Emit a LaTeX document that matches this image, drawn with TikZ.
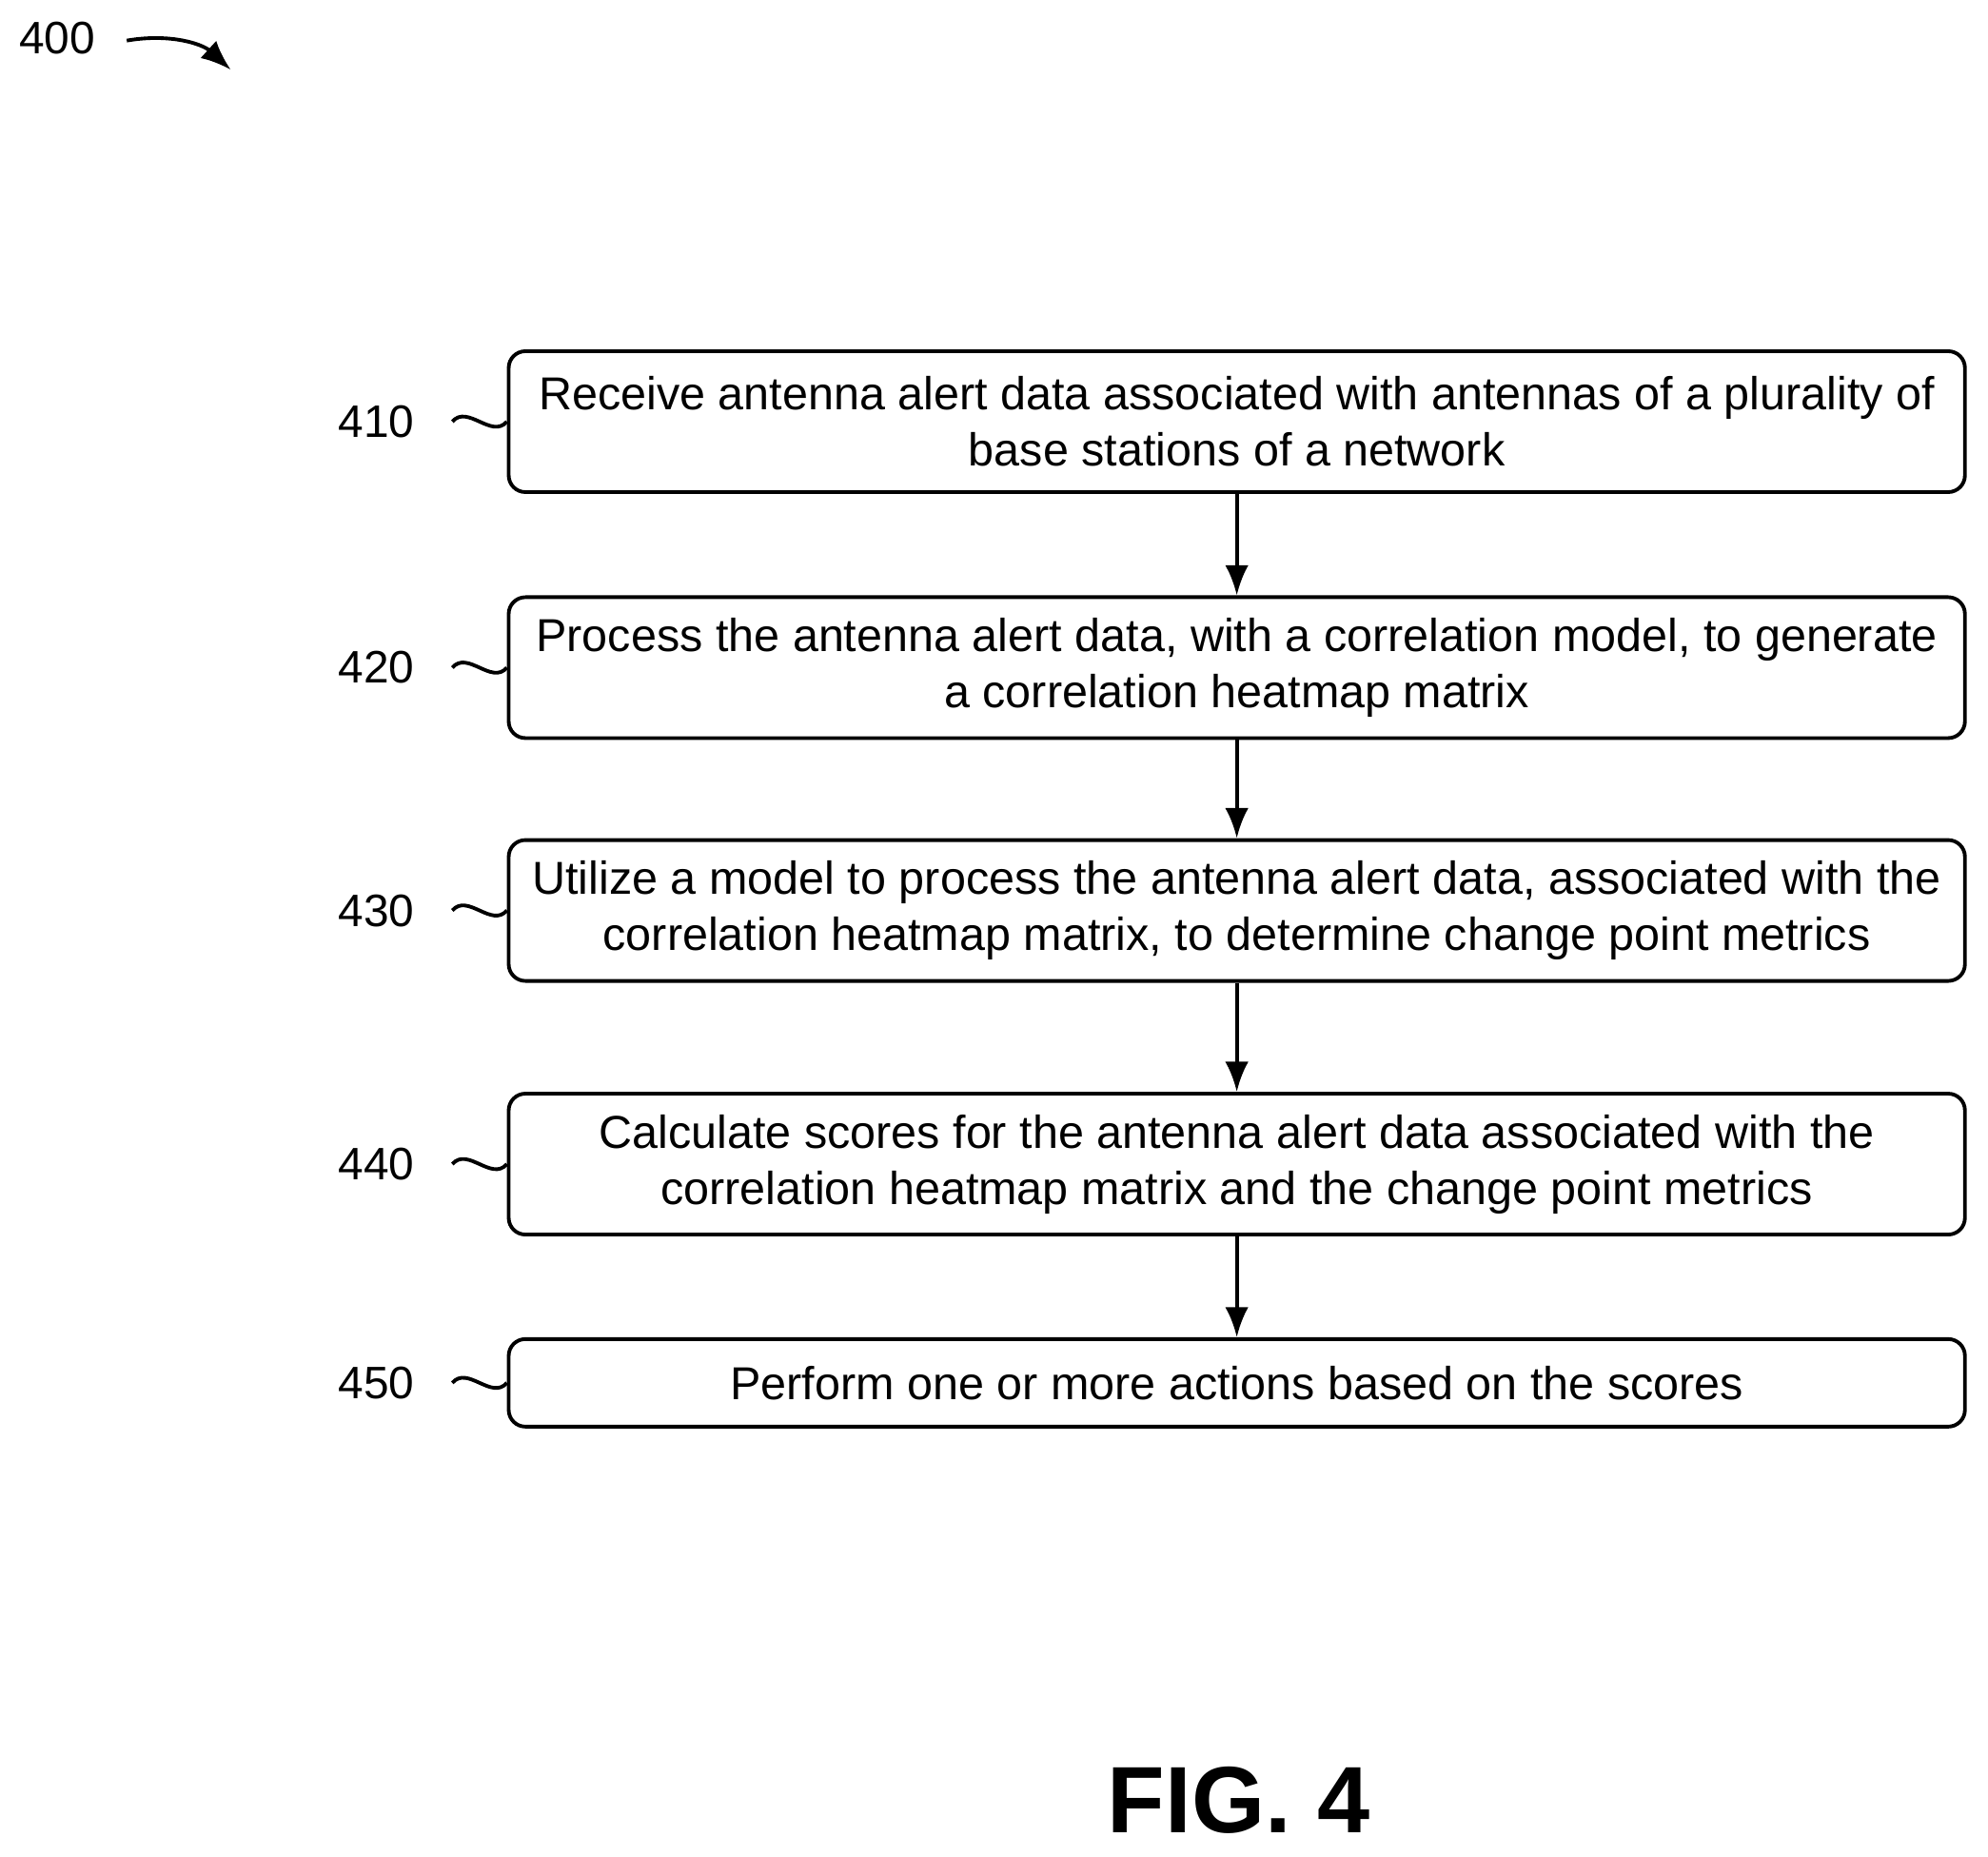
\documentclass[tikz,border=0pt]{standalone}
\usepackage{fontspec}
\setmainfont{Liberation Sans}
\usetikzlibrary{arrows, arrows.meta, positioning, calc}

\begin{document}
\begin{tikzpicture}[>={Latex[length=9pt,width=7pt]}, x=0.01332cm, y=-0.01332cm,
  flowbox/.style={draw, line width=1.1pt, rounded corners=5pt, minimum width=15.30cm, align=center,
               font=\fontsize{13.8}{16.8}\selectfont, inner sep=0pt},
  lbl/.style={font=\fontsize{13.6}{15}\selectfont}]
\useasboundingbox (0,0) rectangle (1568,1464);

\node[lbl] (fig) at (45,30) {400};
\coordinate (figA) at (100,32);
\coordinate (figB) at (182,55);
\draw[->, line width=1.1pt] (figA) .. controls (135,26) and (160,35) .. (figB);

\node[flowbox, minimum height=1.48cm] (s410) at (975.5,332.5) {Receive antenna alert data associated with antennas of a plurality of\\base stations of a network};
\node[flowbox, minimum height=1.48cm] (s420) at (975.5,526.5) {Process the antenna alert data, with a correlation model, to generate\\a correlation heatmap matrix};
\node[flowbox, minimum height=1.48cm] (s430) at (975.5,718) {Utilize a model to process the antenna alert data, associated with the\\correlation heatmap matrix, to determine change point metrics};
\node[flowbox, minimum height=1.48cm] (s440) at (975.5,918) {Calculate scores for the antenna alert data associated with the\\correlation heatmap matrix and the change point metrics};
\node[flowbox, minimum height=0.92cm] (s450) at (975.5,1090.5) {Perform one or more actions based on the scores};

\foreach \s in {410,420,430,440,450} {
  \node[lbl, left=1.37cm of s\s.west, anchor=center] (l\s) {\s};
  \coordinate (w\s) at ($(s\s.west)+(-43,0)$);
  \draw[line width=1.1pt] (w\s) .. controls +(12,-14) and +(-12,14) .. (s\s.west);
}

\draw[->, line width=1.1pt] (s410) -- (s420);
\draw[->, line width=1.1pt] (s420) -- (s430);
\draw[->, line width=1.1pt] (s430) -- (s440);
\draw[->, line width=1.1pt] (s440) -- (s450);

\node[font=\fontsize{28.2}{32}\selectfont\bfseries] (cap) at (977,1420) {FIG. 4};
\end{tikzpicture}
\end{document}
